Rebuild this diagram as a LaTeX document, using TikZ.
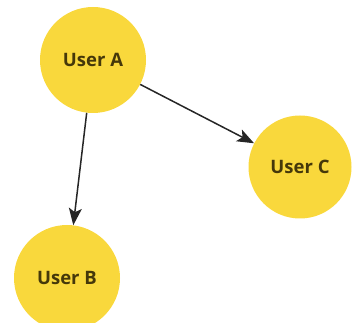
\documentclass[tikz,border=0pt]{standalone}
\usepackage{fontspec}
\setmainfont{Open Sans}
\usetikzlibrary{arrows.meta}
\definecolor{userfill}{HTML}{F9D83C}
\definecolor{usertext}{HTML}{45380A}
\definecolor{linkcol}{HTML}{262626}
\tikzset{
  user/.style={circle, fill=userfill, draw=none, minimum size=106pt, inner sep=0pt,
    font=\bfseries\fontsize{18.5}{21}\selectfont, text=usertext},
  link/.style={draw=linkcol, line width=1.5pt, -{Stealth[length=17pt,width=13pt,inset=4pt]}}
}
\begin{document}
\begin{tikzpicture}[x=1pt,y=-1pt]
  \useasboundingbox (0,0) rectangle (356,323);
  \node[user] (a) at (93,60) {User A};
  \node[user] (b) at (67,278) {User B};
  \node[user, minimum size=103pt] (c) at (300,167) {User C};
  \draw[link] (a) -- (b);
  \draw[link] (a) -- (c);
\end{tikzpicture}
\end{document}
